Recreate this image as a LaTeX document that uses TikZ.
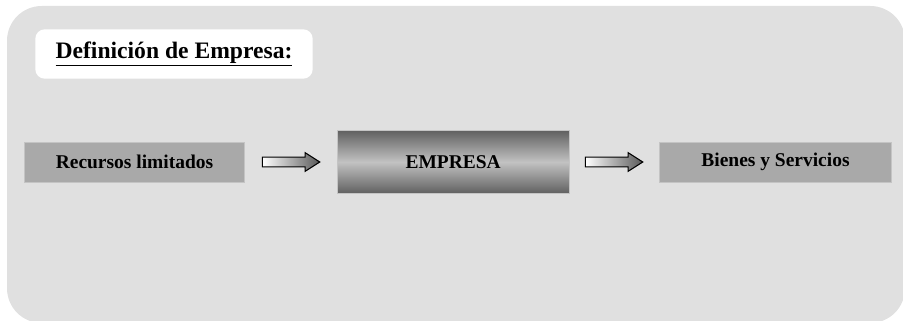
\documentclass[tikz,border=0pt]{standalone}
\usepackage{fontspec}
\setmainfont{Liberation Serif}
\usetikzlibrary{positioning,shapes.arrows}

\definecolor{fondo}{HTML}{E0E0E0}
\definecolor{cajagris}{HTML}{A9A9A9}
\definecolor{bordegris}{HTML}{C4C4C4}

\tikzset{
  caja/.style={draw=bordegris, line width=0.6pt, fill=cajagris,
    minimum width=165.5pt, minimum height=30pt, inner sep=0pt,
    font=\fontsize{14.6}{17}\selectfont\bfseries},
  flecha/.style={single arrow, draw=black, line width=0.8pt,
    left color=white, right color=black!65,
    minimum width=0pt, single arrow head extend=3.4pt,
    single arrow tip angle=65, minimum height=43pt, inner sep=3.2pt},
  central/.style={draw=bordegris, line width=0.6pt,
    top color=black!62, bottom color=black!62, middle color=black!24,
    minimum width=174pt, minimum height=47pt, inner sep=0pt,
    font=\fontsize{14.6}{17}\selectfont\bfseries}
}

\begin{document}
\begin{tikzpicture}[x=0.75pt, y=-0.75pt]
  \useasboundingbox (0,0) rectangle (903,321);
  % fondo del diagrama
  \begin{scope}
    \clip (0,0) rectangle (903,321);
    \fill[fondo, rounded corners=26pt] (7,6) rectangle (905,323);
  \end{scope}

  % titulo
  \node[fill=white, rounded corners=7pt, minimum width=208pt, minimum height=37pt,
    font=\fontsize{17.7}{21}\selectfont\bfseries] (titulo) at (174,54)
    {\underline{Definición de Empresa:}};

  % cadena de cajas y flechas
  \node[caja] (recursos) at (134.5,162) {Recursos limitados};
  \node[flecha, right=12.5pt of recursos] (f1) {};
  \node[central, right=12pt of f1] (empresa) {EMPRESA};
  \node[flecha, right=11.5pt of empresa] (f2) {};
  \node[caja, minimum width=174pt, right=11.5pt of f2] (bienes) {Bienes y Servicios};
\end{tikzpicture}
\end{document}
